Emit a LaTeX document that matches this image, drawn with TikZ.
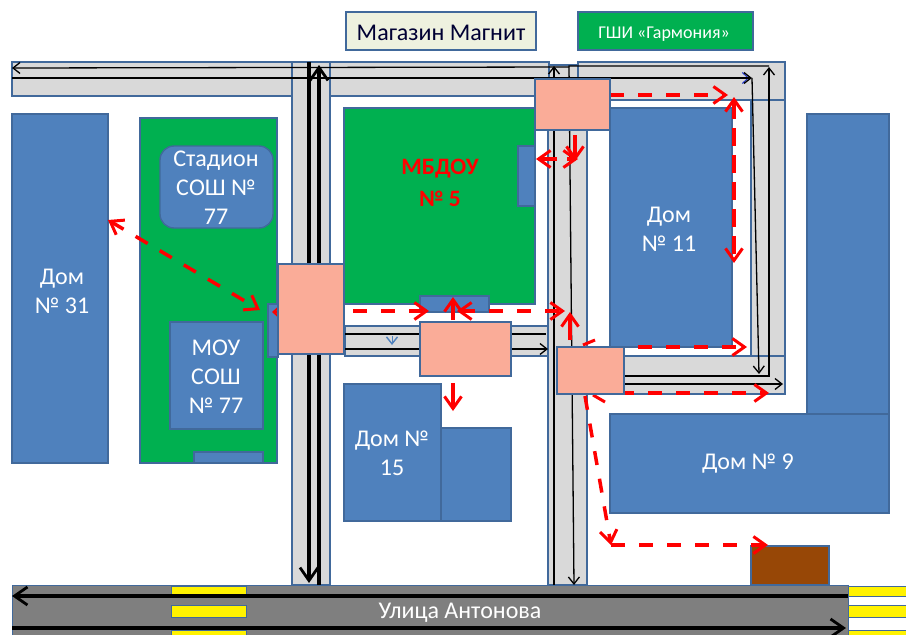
\documentclass[tikz,border=0pt]{standalone}
\usepackage{fontspec}
\setmainfont{Carlito}
\usetikzlibrary{arrows.meta}
\definecolor{house}{HTML}{4F81BD}
\definecolor{edge}{HTML}{41699B}
\definecolor{yard}{HTML}{00B050}
\definecolor{road}{HTML}{D9D9D9}
\definecolor{street}{HTML}{7F7F7F}
\definecolor{crossing}{HTML}{FAAC98}
\definecolor{shop}{HTML}{EEF1DF}
\definecolor{brownbox}{HTML}{974706}
\begin{document}
\begin{tikzpicture}[x=1pt, y=-1pt, line join=miter,
		outline/.style = {draw=edge, line width=1.4pt},
		bldg/.style = {outline, fill=house},
		yardbox/.style = {outline, fill=yard},
		lane/.style = {draw=edge, line width=1.3pt, fill=road},
		pinkbox/.style = {outline, fill=crossing},
		zebra/.style = {draw=edge, line width=.6pt, fill=yellow},
		txt/.style = {align=center, text=white, font=\fontsize{24}{29}\selectfont, inner sep=0pt, yshift=-2pt},
		thin line/.style = {black, line width=1.3pt, -{Straight Barb[length=7pt,width=11pt,line width=1.3pt]}},
		thick line/.style = {black, line width=3.2pt, -{Straight Barb[length=13pt,width=18pt,line width=2.8pt]}},
		walk/.style = {red, line width=3.5pt, dash pattern=on 14pt off 14pt, {Straight Barb[length=12pt,width=17pt,line width=3pt]}-{Straight Barb[length=12pt,width=17pt,line width=3pt]}},
		walk to/.style = {red, line width=3.5pt, dash pattern=on 14pt off 14pt, -{Straight Barb[length=12pt,width=17pt,line width=3pt]}},
		walk solid/.style = {red, line width=3.5pt, -{Straight Barb[length=12pt,width=17pt,line width=3pt]}}]
			\useasboundingbox (0,0) rectangle (906,635);
			\fill[white] (0,0) rectangle (906,635);
			\filldraw[lane] (292,62) rectangle (330,585);
			\filldraw[lane] (548,65) rectangle (587,585);
			\filldraw[lane] (12,62) rectangle (292,96);
			\filldraw[lane] (330,62) rectangle (549,96);
			\filldraw[lane] (578,62) rectangle (785,100);
			\filldraw[lane] (751,100) rectangle (785,356);
			\filldraw[lane] (587,356) rectangle (785,394);
			\filldraw[lane] (345,326) rectangle (548,356);
			\filldraw[fill=street, draw=edge, line width=1pt] (12,585) rectangle (848,635);
			\foreach \xa/\xb in {171/246, 848/906} {
				\filldraw[zebra] (\xa,586) rectangle (\xb,596);
				\filldraw[zebra] (\xa,605) rectangle (\xb,617);
				\filldraw[zebra] (\xa,630) rectangle (\xb,636);
			}
			\filldraw[outline, fill=shop] (346,12) rectangle (536,50);
			\filldraw[yardbox] (578,12) rectangle (753,50);
			\filldraw[yardbox] (140,118) rectangle (277,463);
			\filldraw[yardbox] (344,108) rectangle (535,304);
			\filldraw[bldg] (12,114) rectangle (108,463);
			\filldraw[bldg, rounded corners=14pt] (160,146) rectangle (273,228);
			\filldraw[bldg] (170,322) rectangle (263,429);
			\filldraw[bldg] (194,452) rectangle (263,463);
			\filldraw[bldg] (268,304) rectangle (278,357);
			\filldraw[bldg] (518,146) rectangle (535,206);
			\filldraw[bldg] (420,296) rectangle (489,312);
			\filldraw[bldg] (344,384) rectangle (441,521);
			\filldraw[bldg] (441,428) rectangle (511,521);
			\filldraw[bldg] (610,108) rectangle (732,347);
			\filldraw[bldg] (807,114) rectangle (889,414);
			\filldraw[bldg] (610,414) rectangle (889,513);
			\filldraw[outline, fill=brownbox] (751,546) rectangle (829,585);
			\node[txt, text=black!80!blue] (magnit) at (441,31) {Магазин Магнит};
			\node[txt, font=\fontsize{18}{20}\selectfont] (garmonia) at (664,32) {ГШИ «Гармония»};
			\node[txt] (stadion) at (216,186) {Стадион\\СОШ №\\77};
			\node[txt] (dom31) at (62,289) {Дом\\№ 31};
			\node[txt] (mou) at (216,375) {МОУ\\СОШ\\№ 77};
			\node[txt, text=red, font=\fontsize{23.5}{32}\selectfont\bfseries] (mbdou) at (440,181) {МБДОУ\\№ 5};
			\node[txt] (dom11) at (669,227) {Дом\\№ 11};
			\node[txt] (dom15) at (392,451) {Дом №\\15};
			\node[txt] (dom9) at (748,462) {Дом № 9};
			\node[txt] (ulica) at (460,611) {Улица Антонова};
			\coordinate (T1) at (569,67);
			\coordinate (T2) at (12,68);
			\coordinate (T3) at (769,66);
			\coordinate (T4) at (569,66);
			\coordinate (T5) at (574,585);
			\coordinate (T6) at (12,78);
			\coordinate (T7) at (752,78);
			\coordinate (T8) at (759,374);
			\coordinate (T9) at (624,376);
			\coordinate (T10) at (769,376);
			\coordinate (T11) at (769,67);
			\coordinate (T12) at (624,384);
			\coordinate (T13) at (783,384);
			\coordinate (T14) at (345,334);
			\coordinate (T15) at (546,334);
			\coordinate (T16) at (345,349);
			\coordinate (T17) at (548,349);
			\coordinate (T18) at (554,585);
			\coordinate (T19) at (554,66);
			\coordinate (V1) at (309,62);
			\coordinate (V2) at (309,583);
			\coordinate (V3) at (319,585);
			\coordinate (V4) at (319,65);
			\coordinate (S1) at (848,596);
			\coordinate (S2) at (12,596);
			\coordinate (S3) at (12,628);
			\coordinate (S4) at (846,628);
			\coordinate (B1) at (586,78);
			\coordinate (B2) at (749,78);
			\coordinate (B3) at (392,336);
			\coordinate (B4) at (392,345);
			\draw[blue!50!edge, line width=1pt, -{Straight Barb[length=6pt,width=11pt]}] (B1) -- (B2);
			\draw[house, line width=1pt, -{Straight Barb[length=7pt,width=11pt,line width=1.4pt]}] (B3) -- (B4);
			\draw[thin line] (T1) -- (T2);
			\draw[thin line] (T3) -- (T4) -- (T5);
			\draw[thin line] (T6) -- (T7);
			\draw[thin line] (T7) -- (T8);
			\draw[thin line] (T9) -- (T10) -- (T11);
			\draw[thin line] (T12) -- (T13);
			\draw[black, line width=1.3pt] (T14) -- (T15);
			\draw[thin line] (T16) -- (T17);
			\draw[thin line, line width=1.6pt] (T18) -- (T19);
			\draw[thick line] (V1) -- (V2);
			\draw[thick line] (V3) -- (V4);
			\draw[thick line] (S1) -- (S2);
			\draw[thick line] (S3) -- (S4);
			\coordinate (R1) at (108,220);
			\coordinate (R2) at (260,310);
			\coordinate (R3) at (353,311);
			\coordinate (R4) at (429,311);
			\coordinate (R5) at (565,311);
			\coordinate (R6) at (457,311);
			\coordinate (R7) at (453,320);
			\coordinate (R8) at (453,297);
			\coordinate (R9) at (453,383);
			\coordinate (R10) at (453,411);
			\coordinate (R11) at (570,340);
			\coordinate (R12) at (570,312);
			\coordinate (R13) at (610,95);
			\coordinate (R14) at (728,95);
			\coordinate (R15) at (734,97);
			\coordinate (R16) at (734,263);
			\coordinate (R17) at (624,347);
			\coordinate (R18) at (747,347);
			\coordinate (R19) at (620,393);
			\coordinate (R20) at (769,393);
			\coordinate (R21) at (585,396);
			\coordinate (R22) at (611,545);
			\coordinate (R23) at (768,545);
			\coordinate (R24) at (575,135);
			\coordinate (R25) at (575,161);
			\coordinate (R26) at (536,159);
			\coordinate (R27) at (578,159);
			\coordinate (R28) at (300,312);
			\coordinate (R29) at (272,312);
			\coordinate (R30) at (583,345);
			\coordinate (R31) at (595,340);
			\coordinate (R32) at (593,395);
			\coordinate (R33) at (605,402);
			\draw[walk] (R1) -- (R2);
			\draw[walk to] (R3) -- (R4);
			\draw[walk] (R6) -- (R5);
			\draw[walk solid] (R7) -- (R8);
			\draw[walk solid] (R9) -- (R10);
			\draw[walk solid] (R11) -- (R12);
			\draw[walk to] (R13) -- (R14);
			\draw[walk, dash pattern=on 18pt off 9pt] (R15) -- (R16);
			\draw[walk to, dash pattern=on 14pt off 14pt, dash phase=14pt] (R17) -- (R18);
			\draw[walk to] (R19) -- (R20);
			\draw[walk to] (R21) -- (R22);
			\draw[walk to] (R22) -- (R23);
			\draw[walk solid] (R24) -- (R25);
			\draw[walk, dash pattern=on 17pt off 10pt] (R26) -- (R27);
			\draw[red, line width=2pt, -{Straight Barb[length=5pt,width=9pt]}] (R28) -- (R29);
			\draw[red, line width=3pt] (R30) -- (R31);
			\draw[red, line width=3pt] (R32) -- (R33);
			\filldraw[pinkbox] (278,264) rectangle (344,354);
			\filldraw[pinkbox] (420,322) rectangle (511,376);
			\filldraw[pinkbox] (535,79) rectangle (610,130);
			\filldraw[pinkbox] (557,347) rectangle (624,394);
		\end{tikzpicture}
\end{document}
